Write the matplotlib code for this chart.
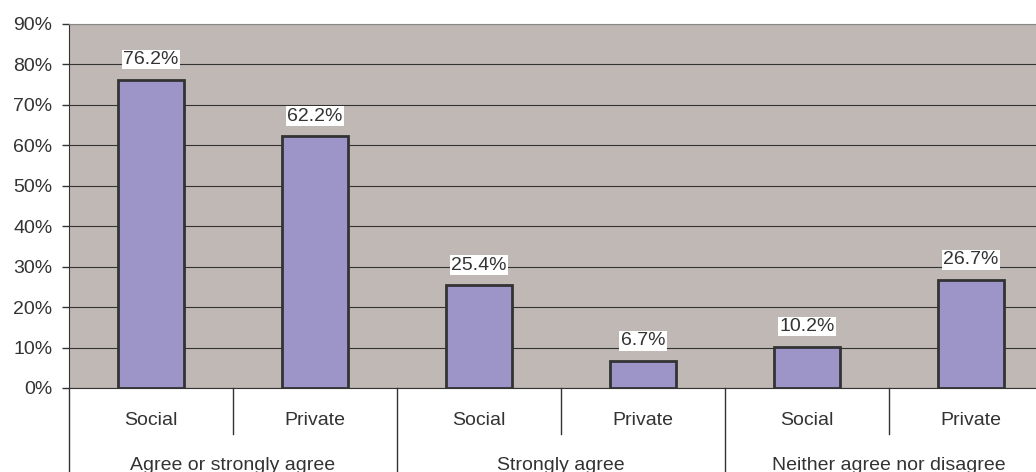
import numpy as np
import matplotlib.pyplot as plt

plt.rcParams['font.family'] = ['Liberation Sans', 'DejaVu Sans']

groups = ['Agree or strongly agree', 'Strongly agree', 'Neither agree nor disagree']
sectors = ['Social', 'Private']
values = [76.2, 62.2, 25.4, 6.7, 10.2, 26.7]
yticks = [0, 10, 20, 30, 40, 50, 60, 70, 80, 90]

fig = plt.figure(figsize=(10.36, 4.72), dpi=100)
ax = fig.add_axes([69 / 1036, 1 - 388 / 472, 984 / 1036, 364 / 472])
ax.set_facecolor('#c0b8b4')

x = np.arange(len(values))
ax.bar(x, values, width=0.40, color='#9d94c8', edgecolor='#333333', linewidth=2, zorder=3)

for xi, v in zip(x, values):
    ax.text(xi, v + 5.0, '%.1f%%' % v, ha='center', va='center', fontsize=14, color='#333333',
            bbox=dict(facecolor='white', edgecolor='none', pad=1.0), zorder=4)

ax.set_xlim(-0.5, len(values) - 0.5)
ax.set_ylim(0, 90)
ax.set_yticks(yticks)
ax.set_yticklabels(['%d%%' % t for t in yticks], fontsize=14, color='#333333')
ax.yaxis.grid(True, color='#333333', linewidth=0.8)
ax.set_axisbelow(True)
ax.set_xticks([])
ax.tick_params(axis='y', length=5, color='#333333', width=1, pad=7)
ax.spines['right'].set_visible(False)
ax.spines['top'].set_color('#888888')
ax.spines['left'].set_color('#333333')
ax.spines['bottom'].set_color('#333333')

# category axis below the plot
trans = ax.get_xaxis_transform()
for i, g in enumerate(groups):
    for j, s in enumerate(sectors):
        ax.text(2 * i + j, -0.088, s, transform=trans, ha='center', va='center',
                fontsize=14, color='#333333')
    ax.plot([2 * i + 0.5, 2 * i + 0.5], [0, -0.126], transform=trans, color='#333333',
            linewidth=1, clip_on=False)
    ax.plot([2 * i - 0.5, 2 * i - 0.5], [0, -0.25], transform=trans, color='#333333',
            linewidth=1, clip_on=False)
    ax.text(2 * i + 0.5, -0.212, g, transform=trans, ha='center', va='center',
            fontsize=14, color='#333333')

fig.savefig('out.png', dpi=100)
